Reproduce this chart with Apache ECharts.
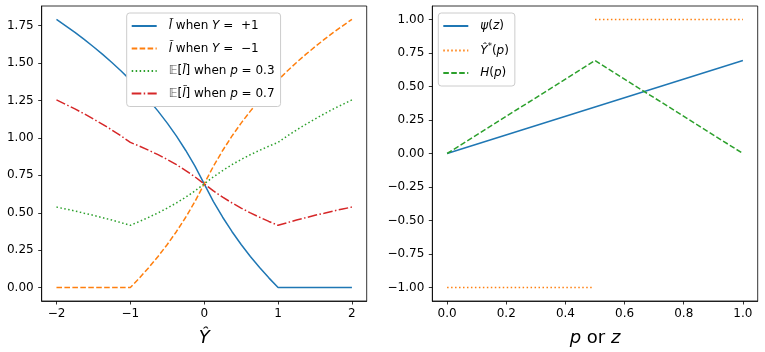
<!DOCTYPE html>
<html>
<head>
<meta charset="utf-8">
<script src="https://cdn.jsdelivr.net/npm/echarts@6/dist/echarts.min.js"></script>
<style>
html,body{margin:0;padding:0;background:#fff}
#main{width:765px;height:352px}
</style>
</head>
<body>
<div id="main"></div>
<script>
// left panel: losses against Y-hat
const yhat = [-2, -1.875, -1.75, -1.625, -1.5, -1.375, -1.25, -1.125, -1, -0.875, -0.75, -0.625, -0.5, -0.375, -0.25, -0.125,
  0, 0.125, 0.25, 0.375, 0.5, 0.625, 0.75, 0.875, 1, 1.125, 1.25, 1.375, 1.5, 1.625, 1.75, 1.875, 2];
const lossPos = [1.792, 1.749, 1.705, 1.658, 1.609, 1.558, 1.504, 1.447, 1.386, 1.322, 1.253, 1.179, 1.099, 1.012, 0.916, 0.811,
  0.693, 0.575, 0.470, 0.375, 0.288, 0.208, 0.134, 0.065, 0, 0, 0, 0, 0, 0, 0, 0, 0];
const lossNeg = [0, 0, 0, 0, 0, 0, 0, 0, 0, 0.065, 0.134, 0.208, 0.288, 0.375, 0.470, 0.575,
  0.693, 0.811, 0.916, 1.012, 1.099, 1.179, 1.253, 1.322, 1.386, 1.447, 1.504, 1.558, 1.609, 1.658, 1.705, 1.749, 1.792];
const expP03 = [0.538, 0.525, 0.512, 0.497, 0.483, 0.467, 0.451, 0.434, 0.416, 0.442, 0.470, 0.499, 0.531, 0.566, 0.604, 0.646,
  0.693, 0.740, 0.782, 0.821, 0.856, 0.888, 0.917, 0.945, 0.970, 1.013, 1.053, 1.091, 1.126, 1.161, 1.194, 1.224, 1.254];
const expP07 = [1.254, 1.224, 1.194, 1.161, 1.126, 1.091, 1.053, 1.013, 0.970, 0.945, 0.917, 0.888, 0.856, 0.821, 0.782, 0.740,
  0.693, 0.646, 0.604, 0.566, 0.531, 0.499, 0.470, 0.442, 0.416, 0.434, 0.451, 0.467, 0.483, 0.497, 0.512, 0.525, 0.538];

// right panel
const psiZ = [0, 1];
const psiVal = [0, 0.693];
const ystarP = [0, 0.49, 0.495, 0.5, 1];
const ystarVal = [-1, -1, '-', 1, 1];
const hP = [0, 0.5, 1];
const hVal = [0, 0.693, 0];

// tick labels
const leftXTicks = [-2, -1, 0, 1, 2];
const leftYTicks = [0, 0.25, 0.5, 0.75, 1, 1.25, 1.5, 1.75];
const rightXTicks = [0, 0.2, 0.4, 0.6, 0.8, 1];
const rightYTicks = [-1, -0.75, -0.5, -0.25, 0, 0.25, 0.5, 0.75, 1];

const zip = (xs, ys) => xs.map((x, i) => [x, ys[i]]);
const minus = s => s.replace('-', '\u2212');
const FONT = 'DejaVu Sans';
const TICK = 12;
const LEG = 12;

const legendRich = {
  r: {fontFamily: FONT, fontSize: LEG, color: '#000'},
  i: {fontFamily: FONT, fontSize: LEG, fontStyle: 'italic', color: '#000'},
  bb: {fontFamily: FONT, fontSize: LEG, color: '#555'},
  sup: {fontFamily: FONT, fontSize: 8.5, color: '#000', padding: [0, 0, 7, 0]}
};
const legendText = {
  lpos: '{i|l\u0303}{r| when }{i|Y}{r| =  +1}',
  lneg: '{i|l\u0303}{r| when }{i|Y}{r| =  \u22121}',
  e03: '{bb|\uD835\uDD3C}{r|[}{i|l\u0303}{r|] when }{i|p}{r| = 0.3}',
  e07: '{bb|\uD835\uDD3C}{r|[}{i|l\u0303}{r|] when }{i|p}{r| = 0.7}',
  psi: '{i|\u03C8}{r|(}{i|z}{r|)}',
  ystar: '{i|\u0176}{sup|*}{r|(}{i|p}{r|)}',
  H: '{i|H}{r|(}{i|p}{r|)}'
};

const baseAxis = {
  axisLine: {show: true, onZero: false, lineStyle: {color: '#000', width: 0.8}},
  axisTick: {show: true, inside: false, length: 3.5, lineStyle: {color: '#000', width: 0.8}},
  splitLine: {show: false}
};
function axis(extra, ticks, digits, margin) {
  return Object.assign({}, baseAxis, extra, {
    type: 'value',
    axisTick: Object.assign({}, baseAxis.axisTick, {customValues: ticks}),
    axisLabel: {
      customValues: ticks, fontFamily: FONT, fontSize: TICK, color: '#000', margin: margin,
      formatter: v => minus(Number(v).toFixed(digits))
    }
  });
}

const legendBase = {
  orient: 'vertical',
  itemWidth: 25,
  itemHeight: 10,
  itemGap: 10.5,
  padding: [7, 6, 7, 4],
  backgroundColor: '#fff',
  borderColor: '#cccccc',
  borderWidth: 1,
  borderRadius: 3,
  itemStyle: {opacity: 0},
  formatter: name => legendText[name],
  textStyle: {fontFamily: FONT, fontSize: LEG, color: '#000', padding: [0, 0, 0, 7], rich: legendRich}
};

function line(name, xi, yi, data, color, dash) {
  return {
    name: name, type: 'line', xAxisIndex: xi, yAxisIndex: yi,
    data: data, showSymbol: false, symbol: 'none', animation: false,
    lineStyle: {color: color, width: 1.5, type: dash, cap: 'butt'},
    itemStyle: {color: color}
  };
}

const chart = echarts.init(document.getElementById('main'));
chart.setOption({
  backgroundColor: '#fff',
  animation: false,
  grid: [
    {left: 41.7, top: 6, width: 325, height: 297, show: true, borderColor: '#000', borderWidth: 0.8, backgroundColor: 'transparent'},
    {left: 432.3, top: 6, width: 325.4, height: 297, show: true, borderColor: '#000', borderWidth: 0.8, backgroundColor: 'transparent'}
  ],
  xAxis: [
    axis({gridIndex: 0, min: -2.2, max: 2.2, name: '\u0176', nameLocation: 'middle', nameGap: 28,
      nameTextStyle: {fontFamily: FONT, fontSize: 18, fontStyle: 'italic', color: '#000'}}, leftXTicks, 0, 7),
    axis({gridIndex: 1, min: -0.05, max: 1.05, name: '{i|p}{r| or }{i|z}', nameLocation: 'middle', nameGap: 28,
      nameTextStyle: {fontFamily: FONT, fontSize: 18, color: '#000', rich: {
        i: {fontFamily: FONT, fontSize: 18, fontStyle: 'italic', color: '#000'},
        r: {fontFamily: FONT, fontSize: 18, color: '#000'}}}}, rightXTicks, 1, 7)
  ],
  yAxis: [
    axis({gridIndex: 0, min: -0.0896, max: 1.8814}, leftYTicks, 2, 8),
    axis({gridIndex: 1, min: -1.1, max: 1.1}, rightYTicks, 2, 8)
  ],
  legend: [
    Object.assign({}, legendBase, {left: 126.7, top: 13, data: ['lpos', 'lneg', 'e03', 'e07']}),
    Object.assign({}, legendBase, {left: 438.3, top: 13, data: ['psi', 'ystar', 'H']})
  ],
  series: [
    line('lpos', 0, 0, zip(yhat, lossPos), '#1f77b4', 'solid'),
    line('lneg', 0, 0, zip(yhat, lossNeg), '#ff7f0e', [5.55, 2.4]),
    line('e03', 0, 0, zip(yhat, expP03), '#2ca02c', [1.5, 2.475]),
    line('e07', 0, 0, zip(yhat, expP07), '#d62728', [9.6, 2.4, 1.5, 2.4]),
    line('psi', 1, 1, zip(psiZ, psiVal), '#1f77b4', 'solid'),
    line('ystar', 1, 1, zip(ystarP, ystarVal), '#ff7f0e', [1.5, 2.475]),
    line('H', 1, 1, zip(hP, hVal), '#2ca02c', [5.55, 2.4])
  ]
});
</script>
</body>
</html>
